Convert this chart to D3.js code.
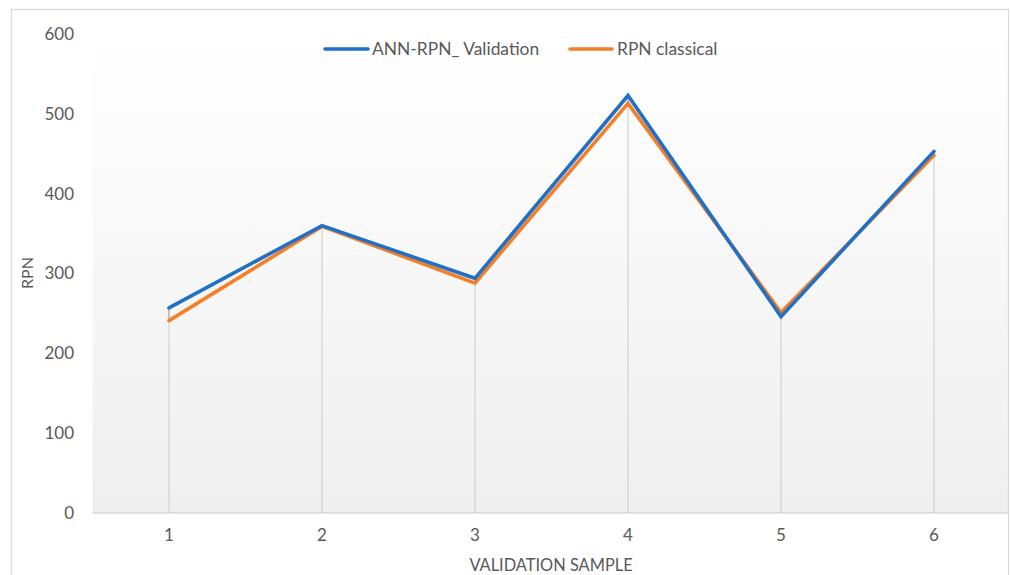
<!DOCTYPE html>
<html>
<head>
<meta charset="utf-8">
<script src="https://cdn.jsdelivr.net/npm/d3@7"></script>
<style>
  html, body { margin: 0; padding: 0; background: #ffffff; }
  svg { display: block; }
  text { font-family: "Lato", "Open Sans", sans-serif; fill: #595959; }
</style>
</head>
<body>
<svg id="chart" width="1010" height="575"></svg>
<script>
// Validation samples and RPN values for each method
const samples = [1, 2, 3, 4, 5, 6];
const annRpnValidation = [257, 360, 294, 523, 246, 453];
const rpnClassical = [241, 359, 288, 513, 251, 448];
const yTicks = [0, 100, 200, 300, 400, 500, 600];
const seriesNames = ["ANN-RPN_ Validation", "RPN classical"];

const svg = d3.select("#chart");

const plot = { left: 92.5, right: 1009, top: 34, bottom: 513 };

const x = d3.scaleBand()
  .domain(samples)
  .range([plot.left, plot.right + 1.5])
  .paddingInner(0).paddingOuter(0);
const xc = d => x(d) + x.bandwidth() / 2;

const y = d3.scaleLinear().domain([0, 600]).range([plot.bottom, plot.top]);

// Plot-area fill: white fading to light grey
const defs = svg.append("defs");
const grad = defs.append("linearGradient")
  .attr("id", "plotFill").attr("x1", 0).attr("y1", 0).attr("x2", 0).attr("y2", 1);
grad.append("stop").attr("offset", "0%").attr("stop-color", "#ffffff");
grad.append("stop").attr("offset", "100%").attr("stop-color", "#efefef");

svg.append("rect")
  .attr("x", plot.left).attr("y", plot.top)
  .attr("width", plot.right - plot.left).attr("height", plot.bottom - plot.top)
  .attr("fill", "url(#plotFill)");

// Chart border
svg.append("rect")
  .attr("x", 11.5).attr("y", 9.5)
  .attr("width", 997).attr("height", 580)
  .attr("fill", "none").attr("stroke", "#d9d9d9").attr("stroke-width", 1.2);

// Title (sits above the frame, only its lower edge is visible)
svg.append("text")
  .attr("x", 509).attr("y", -2)
  .attr("text-anchor", "middle")
  .attr("font-size", 16)
  .text("(a)");

// Drop lines from the lower point to the axis
svg.append("g").selectAll("line")
  .data(samples)
  .join("line")
  .attr("x1", d => xc(d)).attr("x2", d => xc(d))
  .attr("y1", (d, i) => y(Math.min(annRpnValidation[i], rpnClassical[i])))
  .attr("y2", y(0))
  .attr("stroke", "#d4d4d4").attr("stroke-width", 1.3);

// High-low lines between the two series
svg.append("g").selectAll("line")
  .data(samples)
  .join("line")
  .attr("x1", d => xc(d)).attr("x2", d => xc(d))
  .attr("y1", (d, i) => y(Math.min(annRpnValidation[i], rpnClassical[i])))
  .attr("y2", (d, i) => y(Math.max(annRpnValidation[i], rpnClassical[i])))
  .attr("stroke", "#a6a6a6").attr("stroke-width", 1.3);

// X axis
const xAxis = svg.append("g")
  .attr("transform", `translate(0,${plot.bottom})`)
  .call(d3.axisBottom(x).tickSize(0).tickPadding(16));
xAxis.select(".domain").attr("stroke", "#d9d9d9").attr("stroke-width", 1.5)
  .attr("d", `M${plot.left},0H${plot.right}`);
xAxis.selectAll("text").attr("font-size", 17).attr("fill", "#595959")
  .attr("font-family", "Lato, 'Open Sans', sans-serif");

// Y axis (labels only)
const yAxis = svg.append("g")
  .attr("transform", `translate(74,0)`)
  .call(d3.axisLeft(y).tickValues(yTicks).tickSize(0).tickPadding(0));
yAxis.select(".domain").remove();
yAxis.selectAll("text").attr("font-size", 17).attr("fill", "#595959")
  .attr("font-family", "Lato, 'Open Sans', sans-serif");

// Axis titles
svg.append("text")
  .attr("transform", "translate(33,273) rotate(-90)")
  .attr("text-anchor", "middle")
  .attr("font-size", 16)
  .text("RPN");

svg.append("text")
  .attr("x", 551).attr("y", 571)
  .attr("text-anchor", "middle")
  .attr("font-size", 16.4)
  .text("VALIDATION SAMPLE");

// Series lines
const colors = ["#1f70c6", "#f57f27"];
const seriesData = [annRpnValidation, rpnClassical];
const line = d3.line().x((d, i) => xc(samples[i])).y(d => y(d));

seriesData.slice().reverse().forEach((vals, k) => {
  const idx = seriesData.length - 1 - k;
  svg.append("path")
    .datum(vals)
    .attr("d", line)
    .attr("fill", "none")
    .attr("stroke", colors[idx])
    .attr("stroke-width", 3.6)
    .attr("stroke-linejoin", "miter")
    .attr("stroke-linecap", "round");
});

// Legend
const legendItems = [
  { name: seriesNames[0], color: colors[0], x0: 325, x1: 368, tx: 372 },
  { name: seriesNames[1], color: colors[1], x0: 570, x1: 612, tx: 617 }
];
const lg = svg.append("g");
legendItems.forEach(it => {
  lg.append("line")
    .attr("x1", it.x0).attr("x2", it.x1).attr("y1", 49).attr("y2", 49)
    .attr("stroke", it.color).attr("stroke-width", 3.6).attr("stroke-linecap", "round");
  lg.append("text")
    .attr("x", it.tx).attr("y", 55)
    .attr("font-size", 17.4)
    .text(it.name);
});
</script>
</body>
</html>
